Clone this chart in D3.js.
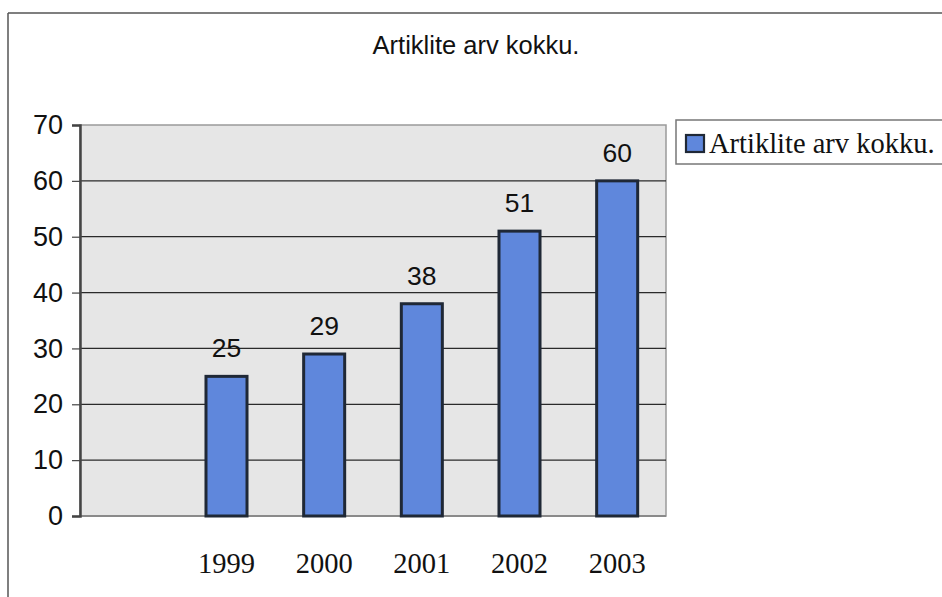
<!DOCTYPE html>
<html>
<head>
<meta charset="utf-8">
<script src="https://cdn.jsdelivr.net/npm/d3@7/dist/d3.min.js"></script>
<style>
  html, body { margin: 0; padding: 0; background: #fff; }
  svg { display: block; }
</style>
</head>
<body>
<svg id="chart" width="942" height="597"></svg>
<script>
// ---- data ----
const title = "Artiklite arv kokku.";
const seriesName = "Artiklite arv kokku.";
const categories = ["1999", "2000", "2001", "2002", "2003"];
const values = [25, 29, 38, 51, 60];
const yTicks = [0, 10, 20, 30, 40, 50, 60, 70];

// ---- layout ----
const W = 942, H = 597;
const plot = { left: 80, right: 666, top: 125, bottom: 516 };

const svg = d3.select("#chart");

// outer frame (top and left edges visible)
svg.append("line").attr("x1", 8).attr("y1", 13).attr("x2", W).attr("y2", 13)
  .attr("stroke", "#555").attr("stroke-width", 1.5);
svg.append("line").attr("x1", 8).attr("y1", 13).attr("x2", 8).attr("y2", H)
  .attr("stroke", "#555").attr("stroke-width", 1.5);

// title
svg.append("text").attr("x", 476).attr("y", 54)
  .attr("text-anchor", "middle")
  .attr("font-family", "Liberation Sans, Arial, sans-serif")
  .attr("font-size", 25.5).attr("fill", "#111")
  .text(title);

// scales
const x = d3.scaleBand()
  .domain([" "].concat(categories))   // leading empty slot as in the original
  .range([plot.left, plot.right])
  .paddingInner(0).paddingOuter(0);
const y = d3.scaleLinear().domain([0, 70]).range([plot.bottom, plot.top]);

// plot background
svg.append("rect")
  .attr("x", plot.left).attr("y", plot.top)
  .attr("width", plot.right - plot.left).attr("height", plot.bottom - plot.top)
  .attr("fill", "#e6e6e6").attr("stroke", "#9a9a9a").attr("stroke-width", 1.5);

// gridlines
svg.append("g").selectAll("line")
  .data(yTicks.filter(d => d > 0 && d < 70))
  .join("line")
  .attr("x1", plot.left).attr("x2", plot.right)
  .attr("y1", d => y(d)).attr("y2", d => y(d))
  .attr("stroke", "#2a2a2a").attr("stroke-width", 1.2);

// zero line
svg.append("line").attr("x1", plot.left).attr("x2", plot.right)
  .attr("y1", y(0)).attr("y2", y(0))
  .attr("stroke", "#8a8a8a").attr("stroke-width", 1.8);

// y axis
const yAxis = d3.axisLeft(y).tickValues(yTicks).tickSize(8).tickPadding(9);
const gy = svg.append("g").attr("transform", `translate(${plot.left},0)`).call(yAxis);
gy.select(".domain").attr("stroke", "#444").attr("stroke-width", 2.5);
gy.selectAll(".tick line").attr("stroke", "#444").attr("stroke-width", 1.2);
gy.selectAll(".tick text")
  .attr("font-family", "Liberation Sans, Arial, sans-serif")
  .attr("font-size", 27).attr("fill", "#111");

// bars
const barW = x.bandwidth() * 0.42;
svg.append("g").selectAll("rect")
  .data(values)
  .join("rect")
  .attr("x", (d, i) => x(categories[i]) + x.bandwidth() / 2 - barW / 2)
  .attr("y", d => y(d))
  .attr("width", barW)
  .attr("height", d => y(0) - y(d))
  .attr("fill", "#5f87dc")
  .attr("stroke", "#1f2836").attr("stroke-width", 3);

// value labels
svg.append("g").selectAll("text")
  .data(values)
  .join("text")
  .attr("x", (d, i) => x(categories[i]) + x.bandwidth() / 2)
  .attr("y", d => y(d) - 19)
  .attr("text-anchor", "middle")
  .attr("font-family", "Liberation Sans, Arial, sans-serif")
  .attr("font-size", 26.5).attr("fill", "#111")
  .text(d => d);

// x axis labels
const xAxis = d3.axisBottom(x).tickValues(categories).tickSize(0).tickPadding(0);
const gx = svg.append("g").attr("transform", `translate(0,${plot.bottom})`).call(xAxis);
gx.select(".domain").remove();
gx.selectAll(".tick text")
  .attr("dy", 0).attr("y", 57)
  .attr("font-family", "Liberation Serif, Times New Roman, serif")
  .attr("font-size", 28.5).attr("fill", "#111");

// legend
const lg = svg.append("g");
lg.append("rect").attr("x", 676).attr("y", 120).attr("width", W - 676 + 5).attr("height", 44)
  .attr("fill", "#fff").attr("stroke", "#777").attr("stroke-width", 1.5);
lg.append("rect").attr("x", 686).attr("y", 135).attr("width", 18).attr("height", 17)
  .attr("fill", "#5f87dc").attr("stroke", "#1f2836").attr("stroke-width", 2.2);
lg.append("text").attr("x", 709).attr("y", 153)
  .attr("font-family", "Liberation Serif, Times New Roman, serif")
  .attr("font-size", 28.5).attr("fill", "#111")
  .text(seriesName);
</script>
</body>
</html>
